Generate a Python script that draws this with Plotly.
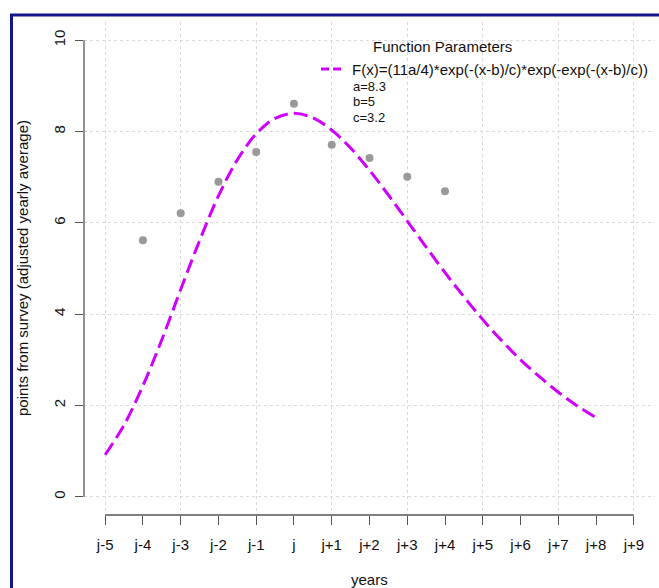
import plotly.graph_objects as go

# ---- data ----
x_tick_labels = ["j-5", "j-4", "j-3", "j-2", "j-1", "j", "j+1", "j+2", "j+3", "j+4",
                 "j+5", "j+6", "j+7", "j+8", "j+9"]
x_tick_vals = list(range(-5, 10))
y_tick_vals = [0, 2, 4, 6, 8, 10]

survey_x = [-4, -3, -2, -1, 0, 1, 2, 3, 4]
survey_y = [5.62, 6.21, 6.90, 7.55, 8.61, 7.71, 7.42, 7.01, 6.69]

curve_x = [-5.0, -4.5, -4.0, -3.5, -3.0, -2.5, -2.0, -1.5, -1.0, -0.5, 0.0, 0.5, 1.0, 1.5,
           2.0, 2.5, 3.0, 3.5, 4.0, 4.5, 5.0, 5.5, 6.0, 6.5, 7.0, 7.5, 8.0]
curve_y = [0.92, 1.57, 2.43, 3.44, 4.54, 5.61, 6.59, 7.38, 7.95, 8.29, 8.40, 8.30, 8.03,
           7.64, 7.15, 6.61, 6.04, 5.47, 4.91, 4.38, 3.88, 3.42, 3.00, 2.63, 2.29, 1.99, 1.73]

legend_title = "Function Parameters"
legend_formula = "F(x)=(11a/4)*exp(-(x-b)/c)*exp(-exp(-(x-b)/c))"
legend_params = ["a=8.3", "b=5", "c=3.2"]

# ---- layout geometry (pixels) ----
W, H = 659, 588
L, R, T, B = 84, 4, 22, 73
PW, PH = W - L - R, H - T - B


def px(xp):
    return (xp - L) / PW


def py(yp):
    return (H - B - yp) / PH


FONT = "Liberation Sans, Arial, sans-serif"
FS = 15
PARAM_FS = 13
CURVE_COLOR = "#D000FF"
AXIS_COLOR = "#555555"
GRID_COLOR = "#DADADA"

fig = go.Figure()
fig.add_trace(go.Scatter(x=curve_x, y=curve_y, mode="lines", line_shape="spline",
                         line=dict(color=CURVE_COLOR, width=3, dash="14px,6px"),
                         showlegend=False, hoverinfo="skip"))
fig.add_trace(go.Scatter(x=survey_x, y=survey_y, mode="markers",
                         marker=dict(color="#999999", size=8),
                         showlegend=False))

fig.update_layout(
    width=W, height=H,
    margin=dict(l=L, r=R, t=T, b=B),
    paper_bgcolor="white", plot_bgcolor="white",
    font=dict(family=FONT, size=FS, color="#111111"),
    xaxis=dict(range=[-5.56, 9.56], tickmode="array", tickvals=x_tick_vals,
               ticktext=x_tick_labels, ticks="outside", ticklen=9, tickcolor=AXIS_COLOR,
               tickwidth=1.3, showline=False, zeroline=False, showgrid=False,
               ticklabelstandoff=7,
               minor=dict(tickmode="linear", tick0=-5, dtick=2, showgrid=True,
                          gridcolor=GRID_COLOR, griddash="dot", gridwidth=1, ticks="")),
    yaxis=dict(range=[-0.4, 10.4], tickmode="array", tickvals=y_tick_vals,
               ticks="outside", ticklen=8, tickcolor=AXIS_COLOR, tickwidth=1.3,
               tickangle=-90, showline=False, zeroline=False, showgrid=True,
               gridcolor=GRID_COLOR, griddash="dot", gridwidth=1, ticklabelstandoff=4),
)

# axis lines (R style, spanning only tick range)
fig.add_shape(type="line", xref="x", yref="paper", x0=x_tick_vals[0], x1=x_tick_vals[-1],
              y0=0, y1=0, line=dict(color=AXIS_COLOR, width=1.3))
fig.add_shape(type="line", xref="paper", yref="y", x0=0, x1=0,
              y0=y_tick_vals[0], y1=y_tick_vals[-1], line=dict(color=AXIS_COLOR, width=1.3))

# outer frame
fig.add_shape(type="rect", xref="paper", yref="paper", x0=px(11.5), x1=px(664),
              y0=py(595), y1=py(15), line=dict(color="#14148C", width=3), layer="above")

# axis titles
fig.add_annotation(text="years", xref="paper", yref="paper", x=px(369.5), y=py(579),
                   showarrow=False, font=dict(size=FS), xanchor="center", yanchor="middle")
fig.add_annotation(text="points from survey (adjusted yearly average)", xref="paper",
                   yref="paper", x=px(22), y=py(268), textangle=-90, showarrow=False,
                   font=dict(size=FS), xanchor="center", yanchor="middle")

# legend
fig.add_annotation(text=legend_title, xref="paper", yref="paper", x=px(442), y=py(46),
                   showarrow=False, font=dict(size=FS), xanchor="center", yanchor="middle")
fig.add_shape(type="line", xref="paper", yref="paper", x0=px(321), x1=px(344),
              y0=py(69), y1=py(69), line=dict(color=CURVE_COLOR, width=3, dash="8px,4px"))
fig.add_annotation(text=legend_formula, xref="paper", yref="paper", x=px(351), y=py(69.5),
                   showarrow=False, font=dict(size=FS), xanchor="left", yanchor="middle",
                   borderpad=0)
for i, t in enumerate(legend_params):
    fig.add_annotation(text=t, xref="paper", yref="paper", x=px(351.5), y=py(86.5 + 15.3 * i),
                       showarrow=False, font=dict(size=PARAM_FS), xanchor="left",
                       yanchor="middle", borderpad=0)

fig.write_html("out.html")
